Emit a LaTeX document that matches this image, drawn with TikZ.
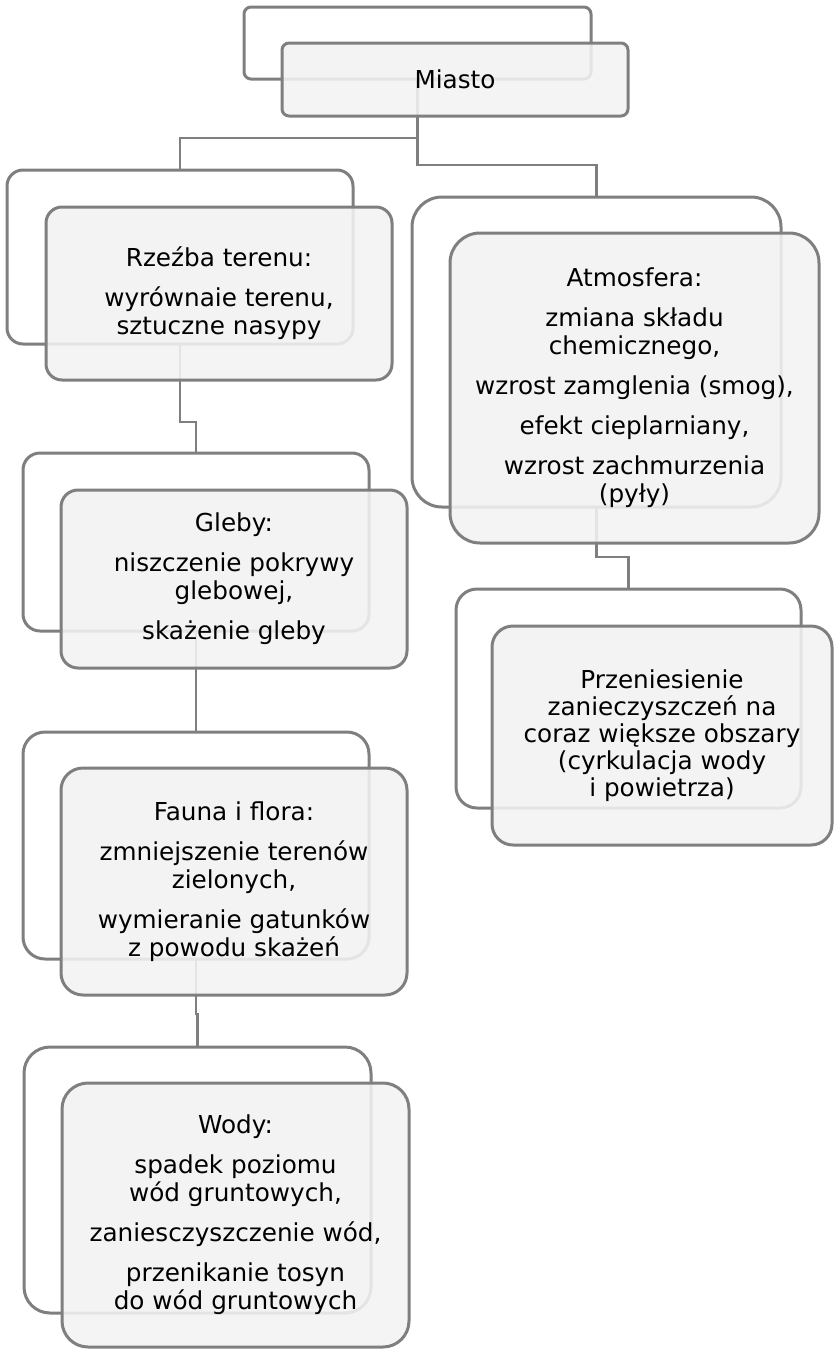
\documentclass[tikz,border=0pt]{standalone}
\usepackage{fontspec}
\setmainfont{DejaVu Sans}
\definecolor{lineGray}{RGB}{127,127,127}
\definecolor{boxGray}{RGB}{242,242,242}
\newcommand{\pgap}{\\[12pt]}
\tikzset{
  backframe/.style={draw=lineGray, line width=3pt, fill=white, rounded corners=#1,
    inner sep=0pt, outer sep=0pt, anchor=north west},
  frontbox/.style={draw=lineGray, line width=3pt, fill=boxGray, fill opacity=0.88,
    text opacity=1, rounded corners=#1, inner sep=0pt, outer sep=0pt,
    anchor=north west, align=center, font=\fontsize{24.7pt}{28pt}\selectfont},
  conn/.style={draw=lineGray, line width=2.2pt}
}
\begin{document}
\begin{tikzpicture}[x=1pt,y=-1pt]
\useasboundingbox (0,0) rectangle (834,1349);
\node [backframe=7, minimum width=347, minimum height=72] (miastoBack) at (244,7) {};
\node [backframe=16, minimum width=346, minimum height=174] (rzezbaBack) at (7,170) {};
\node [backframe=30, minimum width=369, minimum height=310] (atmBack) at (412,197) {};
\node [backframe=21, minimum width=345, minimum height=219] (przenBack) at (456,589) {};
\node [backframe=17, minimum width=346, minimum height=178] (glebyBack) at (23,453) {};
\node [backframe=22, minimum width=346, minimum height=227] (faunaBack) at (23,732) {};
\node [backframe=26, minimum width=347, minimum height=266] (wodyBack) at (24,1047) {};
\draw [conn] (miastoBack.south) -- ++(0,59) -| (rzezbaBack.north);
\draw [conn] (miastoBack.south) -- ++(0,86) -| (atmBack.north);
\draw [conn] (rzezbaBack.south) -- ++(0,78) -| (glebyBack.north);
\draw [conn] (glebyBack.south) -- (faunaBack.north);
\draw [conn] (faunaBack.south) -- ++(0,55) -| (wodyBack.north);
\draw [conn] (atmBack.south) -- ++(0,50) -| (przenBack.north);
\node [frontbox=7, minimum width=346, minimum height=73] (miasto) at (282,43) {Miasto};
\node [frontbox=16, minimum width=346, minimum height=173] (rzezba) at (46,207)
  {Rzeźba terenu:\pgap wyrównaie terenu,\\ sztuczne nasypy};
\node [frontbox=30, minimum width=369, minimum height=310] (atm) at (450,233)
  {Atmosfera:\pgap zmiana składu\\ chemicznego,\pgap wzrost zamglenia (smog),\pgap
   efekt cieplarniany,\pgap wzrost zachmurzenia\\ (pyły)};
\node [frontbox=21, minimum width=340, minimum height=219,
  font=\fontsize{24.7pt}{27pt}\selectfont] (przen) at (492,626)
  {Przeniesienie\\ zanieczyszczeń na\\ coraz większe obszary\\ (cyrkulacja wody\\ i powietrza)};
\node [frontbox=17, minimum width=346, minimum height=178] (gleby) at (61,490)
  {Gleby:\pgap niszczenie pokrywy\\ glebowej,\pgap skażenie gleby};
\node [frontbox=22, minimum width=346, minimum height=227] (fauna) at (61,768)
  {Fauna i flora:\pgap zmniejszenie terenów\\ zielonych,\pgap wymieranie gatunków\\ z powodu skażeń};
\node [frontbox=26, minimum width=347, minimum height=264] (wody) at (62,1083)
  {Wody:\pgap spadek poziomu\\ wód gruntowych,\pgap zaniesczyszczenie wód,\pgap
   przenikanie tosyn\\ do wód gruntowych};
\end{tikzpicture}
\end{document}
